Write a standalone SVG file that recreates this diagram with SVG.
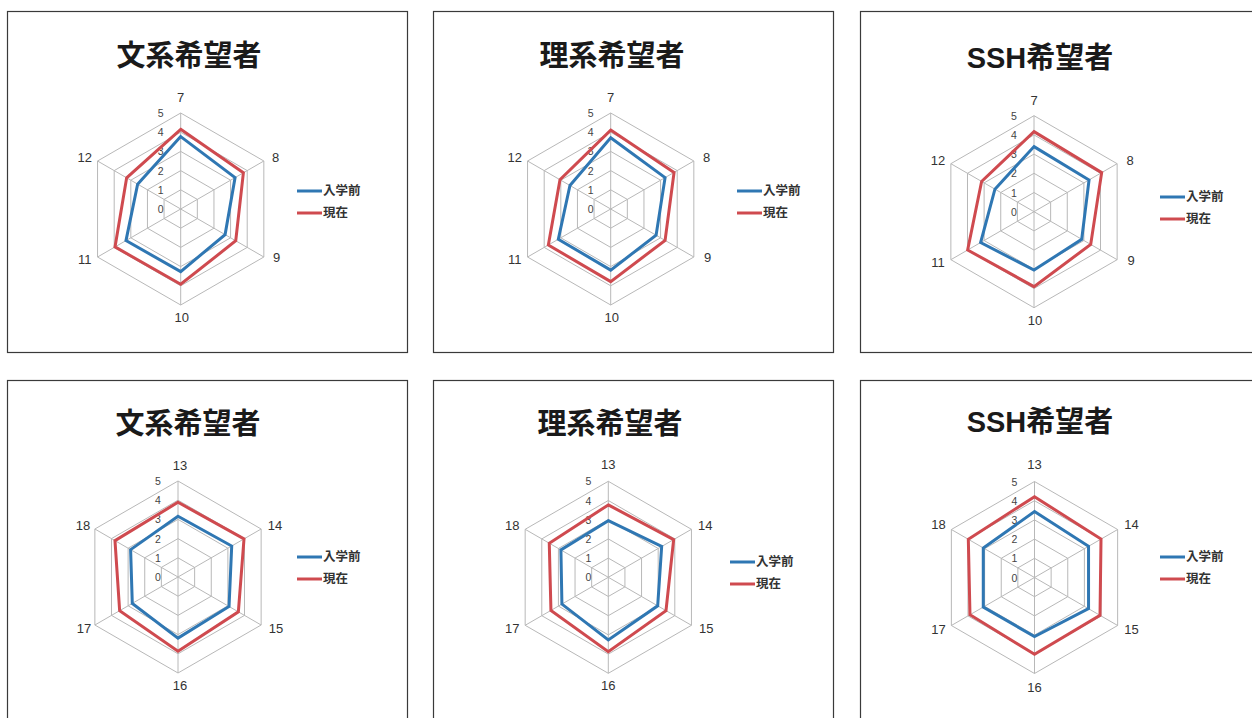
<svg xmlns="http://www.w3.org/2000/svg" xmlns:xlink="http://www.w3.org/1999/xlink" width="1252" height="718" viewBox="0 0 1252 718">
<style>
.panel{fill:#fff;stroke:#3a3a3a;stroke-width:1.2}
.grid{fill:none;stroke:#b8b8b8;stroke-width:1}
.title{font-family:"Liberation Sans","Noto Sans CJK JP",sans-serif;font-weight:bold;font-size:29px;fill:#1a1a1a;text-anchor:middle}
.ax{font-family:"Liberation Sans",sans-serif;font-size:13px;fill:#333;text-anchor:middle}
.sc{font-family:"Liberation Sans",sans-serif;font-size:10.5px;fill:#444;text-anchor:middle}
.leg{font-family:"Noto Sans CJK JP",sans-serif;font-size:12.5px;font-weight:bold;fill:#333}
.before{fill:none;stroke:#2f77b3;stroke-width:3;stroke-linejoin:miter}
.now{fill:none;stroke:#cf4a4f;stroke-width:3;stroke-linejoin:miter}
.lb{stroke:#2f77b3;stroke-width:3}
.lr{stroke:#cf4a4f;stroke-width:3}
</style>
<defs>
<g id="grid">
<polygon class="grid" points="0,-19.2 16.63,-9.6 16.63,9.6 0,19.2 -16.63,9.6 -16.63,-9.6"/>
<polygon class="grid" points="0,-38.4 33.26,-19.2 33.26,19.2 0,38.4 -33.26,19.2 -33.26,-19.2"/>
<polygon class="grid" points="0,-57.6 49.88,-28.8 49.88,28.8 0,57.6 -49.88,28.8 -49.88,-28.8"/>
<polygon class="grid" points="0,-76.8 66.51,-38.4 66.51,38.4 0,76.8 -66.51,38.4 -66.51,-38.4"/>
<polygon class="grid" points="0,-96 83.14,-48 83.14,48 0,96 -83.14,48 -83.14,-48"/>
<path class="grid" d="M0,0V-96M0,0L83.14,-48M0,0L83.14,48M0,0V96M0,0L-83.14,48M0,0L-83.14,-48"/>
<text class="sc" x="-20" y="4">0</text>
<text class="sc" x="-20" y="-15.2">1</text>
<text class="sc" x="-20" y="-34.4">2</text>
<text class="sc" x="-20" y="-53.6">3</text>
<text class="sc" x="-20" y="-72.8">4</text>
<text class="sc" x="-20" y="-92">5</text>
</g>
</defs>

<g id="panel1">
<rect class="panel" x="7.5" y="11.5" width="400" height="341"/>
<text class="title" x="189" y="66">文系希望者</text>
<g transform="translate(180.7,209)">
<use xlink:href="#grid"/>
<polygon class="before" points="0,-72.4 54.37,-31.39 44.39,25.63 0,62.6 -54.71,31.59 -43.07,-24.87"/>
<polygon class="now" points="0,-79.7 62.68,-36.19 55.04,31.78 0,75.3 -65.68,37.92 -54.04,-31.2"/>
<text class="ax" x="0" y="-107">7</text>
<text class="ax" x="95" y="-47">8</text>
<text class="ax" x="96" y="53">9</text>
<text class="ax" x="1" y="113">10</text>
<text class="ax" x="-96" y="55">11</text>
<text class="ax" x="-96" y="-47">12</text>
</g>
<line class="lb" x1="297" y1="191" x2="322" y2="191"/>
<text class="leg" x="323" y="195">入学前</text>
<line class="lr" x1="297" y1="213" x2="322" y2="213"/>
<text class="leg" x="323" y="217">現在</text>
</g>

<g id="panel2">
<rect class="panel" x="433.5" y="11.5" width="400" height="341"/>
<text class="title" x="612" y="66">理系希望者</text>
<g transform="translate(610.7,209)">
<use xlink:href="#grid"/>
<polygon class="before" points="0,-71.2 54.37,-31.39 45.39,26.21 0,61.1 -52.38,30.24 -40.74,-23.52"/>
<polygon class="now" points="0,-78.9 63.35,-36.58 54.37,31.39 0,72.6 -62.35,36 -50.71,-29.28"/>
<text class="ax" x="0" y="-107">7</text>
<text class="ax" x="96" y="-47">8</text>
<text class="ax" x="97" y="53">9</text>
<text class="ax" x="1" y="113">10</text>
<text class="ax" x="-96" y="55">11</text>
<text class="ax" x="-96" y="-47">12</text>
</g>
<line class="lb" x1="737" y1="191" x2="762" y2="191"/>
<text class="leg" x="763" y="195">入学前</text>
<line class="lr" x1="737" y1="213" x2="762" y2="213"/>
<text class="leg" x="763" y="217">現在</text>
</g>

<g id="panel3">
<rect class="panel" x="860.5" y="11.5" width="400" height="341"/>
<text class="title" x="1040" y="68">SSH希望者</text>
<g transform="translate(1034,211.7)">
<use xlink:href="#grid"/>
<polygon class="before" points="0,-65.1 55.04,-31.78 47.72,27.55 0,58.4 -53.37,30.82 -39.07,-22.56"/>
<polygon class="now" points="0,-80.1 67.67,-39.07 56.7,32.74 0,74.9 -66.34,38.3 -52.38,-30.24"/>
<text class="ax" x="0" y="-107">7</text>
<text class="ax" x="96" y="-47">8</text>
<text class="ax" x="97" y="53">9</text>
<text class="ax" x="1" y="113">10</text>
<text class="ax" x="-96" y="55">11</text>
<text class="ax" x="-96" y="-47">12</text>
</g>
<line class="lb" x1="1160" y1="197" x2="1185" y2="197"/>
<text class="leg" x="1186" y="201">入学前</text>
<line class="lr" x1="1160" y1="219" x2="1185" y2="219"/>
<text class="leg" x="1186" y="223">現在</text>
</g>

<g id="panel4">
<rect class="panel" x="7.5" y="380.5" width="400" height="345"/>
<text class="title" x="188" y="434">文系希望者</text>
<g transform="translate(178,577)">
<use xlink:href="#grid"/>
<polygon class="before" points="0,-60.7 53.71,-31.01 51.04,29.47 0,61.1 -45.72,26.4 -47.39,-27.36"/>
<polygon class="now" points="0,-74.7 66.01,-38.11 60.36,34.85 0,74.3 -58.36,33.7 -63.02,-36.38"/>
<text class="ax" x="2" y="-107">13</text>
<text class="ax" x="97" y="-47">14</text>
<text class="ax" x="98" y="56">15</text>
<text class="ax" x="2" y="113">16</text>
<text class="ax" x="-94" y="56">17</text>
<text class="ax" x="-95" y="-47">18</text>
</g>
<line class="lb" x1="297" y1="557" x2="322" y2="557"/>
<text class="leg" x="323" y="561">入学前</text>
<line class="lr" x1="297" y1="579" x2="322" y2="579"/>
<text class="leg" x="323" y="583">現在</text>
</g>

<g id="panel5">
<rect class="panel" x="433.5" y="380.5" width="400" height="345"/>
<text class="title" x="610" y="434">理系希望者</text>
<g transform="translate(608.3,577.3)">
<use xlink:href="#grid"/>
<polygon class="before" points="0,-56.6 53.37,-30.82 49.38,28.51 0,62.6 -46.39,26.79 -47.39,-27.36"/>
<polygon class="now" points="0,-72.4 65.35,-37.73 57.69,33.31 0,74.3 -57.36,33.12 -59.03,-34.08"/>
<text class="ax" x="0" y="-108">13</text>
<text class="ax" x="97" y="-47">14</text>
<text class="ax" x="98" y="56">15</text>
<text class="ax" x="0" y="113">16</text>
<text class="ax" x="-96" y="56">17</text>
<text class="ax" x="-96" y="-47">18</text>
</g>
<line class="lb" x1="730" y1="562" x2="755" y2="562"/>
<text class="leg" x="756" y="566">入学前</text>
<line class="lr" x1="730" y1="584" x2="755" y2="584"/>
<text class="leg" x="756" y="588">現在</text>
</g>

<g id="panel6">
<rect class="panel" x="860.5" y="380.5" width="400" height="345"/>
<text class="title" x="1040" y="432">SSH希望者</text>
<g transform="translate(1034.5,577.5)">
<use xlink:href="#grid"/>
<polygon class="before" points="0,-65.9 54.04,-31.2 54.04,31.2 0,59.1 -51.22,29.57 -51.22,-29.57"/>
<polygon class="now" points="0,-80.8 66.51,-38.4 65.51,37.82 0,76.8 -64.52,37.25 -66.18,-38.21"/>
<text class="ax" x="0" y="-109">13</text>
<text class="ax" x="97" y="-49">14</text>
<text class="ax" x="97" y="56">15</text>
<text class="ax" x="0" y="114">16</text>
<text class="ax" x="-96" y="56">17</text>
<text class="ax" x="-96" y="-49">18</text>
</g>
<line class="lb" x1="1160" y1="557" x2="1185" y2="557"/>
<text class="leg" x="1186" y="561">入学前</text>
<line class="lr" x1="1160" y1="579" x2="1185" y2="579"/>
<text class="leg" x="1186" y="583">現在</text>
</g>
</svg>
